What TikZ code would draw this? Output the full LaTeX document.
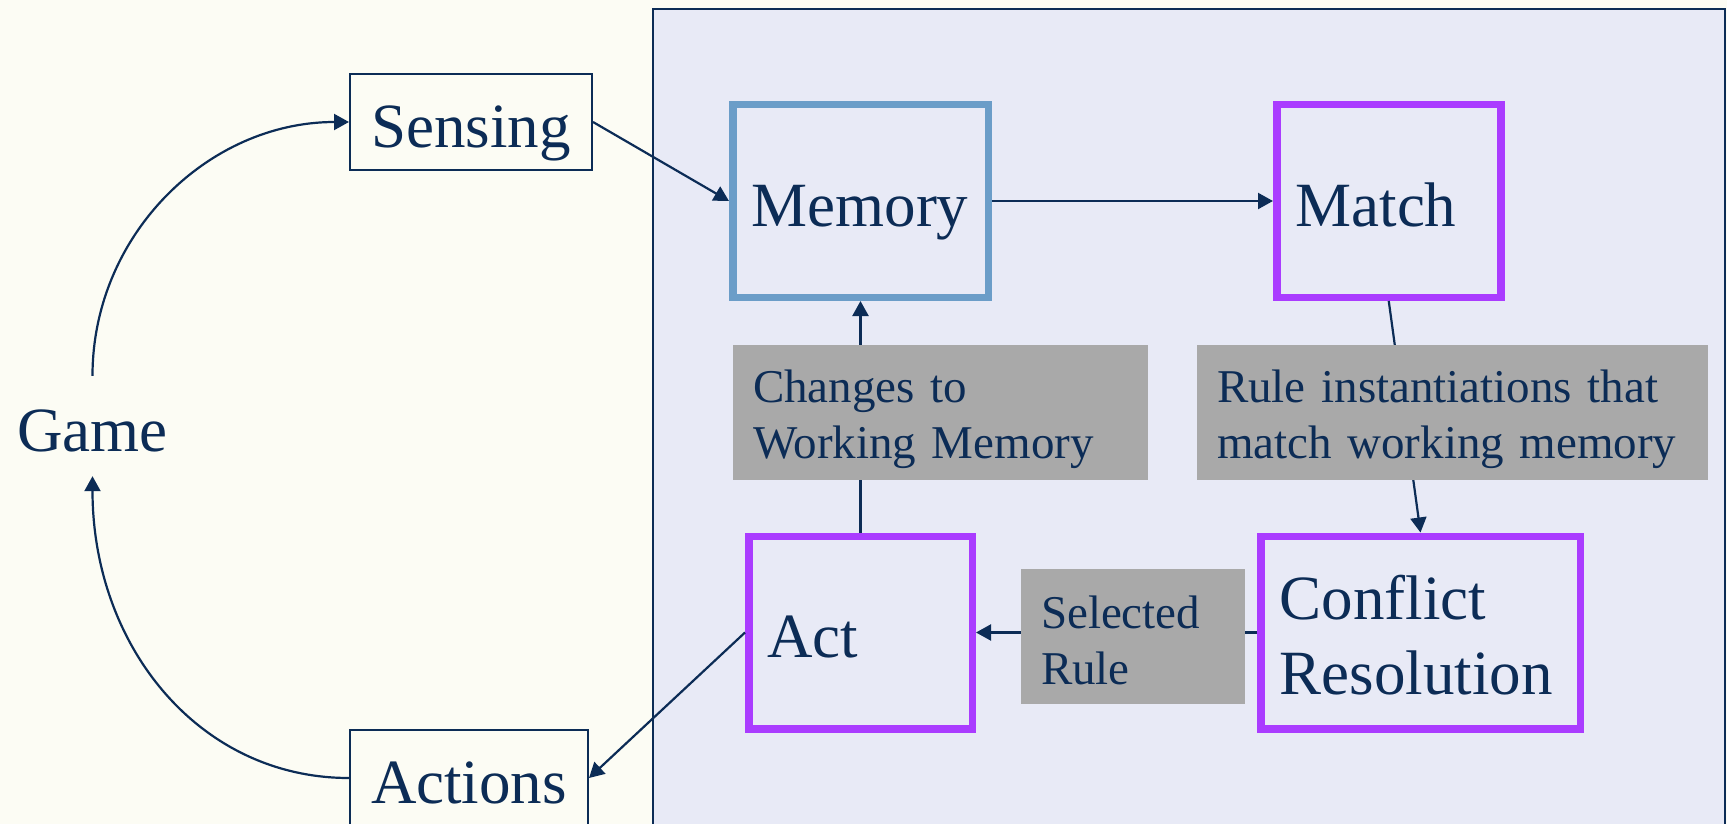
\documentclass[tikz,border=0pt]{standalone}
\usepackage{fontspec}
\setmainfont{Liberation Serif}
\usetikzlibrary{arrows.meta}
\definecolor{navy}{RGB}{12,44,86}
\definecolor{panelfill}{RGB}{232,234,246}
\definecolor{pagebg}{RGB}{252,252,244}
\definecolor{memblue}{RGB}{107,157,200}
\definecolor{rulepurple}{RGB}{170,60,255}
\definecolor{labelgray}{RGB}{169,169,169}
\begin{document}
\begin{tikzpicture}[x=1pt,y=-1pt,
  big/.style={font=\fontsize{63}{75}\selectfont, text=navy},
  small/.style={font=\fontsize{47}{56}\selectfont, text=navy},
  oneline/.style={text height=50pt, text depth=0pt},
  io/.style={big, oneline, draw=navy, line width=1.6pt, inner sep=0pt, minimum height=96.4pt},
  stage/.style={big, line width=7.5pt, align=left, inner xsep=18.75pt, inner ysep=0pt, minimum height=192.5pt},
  lbl/.style={small, fill=labelgray, align=left, inner xsep=20pt, inner ysep=0pt, minimum height=135pt, text height=46pt},
  conn/.style={draw=navy, line width=2.2pt},
  arr/.style={conn, -{Triangle[length=15pt,width=16pt]}}]
\useasboundingbox (0,0) rectangle (1727,824);
\fill[pagebg] (0,0) rectangle (1727,824);
\fill[panelfill] (653,9) rectangle (1725,860);
\draw[navy, line width=1.8pt] (653,9) rectangle (1725,860);

\node[io, minimum width=242.4pt] (sensing) at (471,122) {Sensing};
\node[io, minimum width=238.4pt] (actions) at (469,778) {Actions};
\node[big, oneline, inner xsep=0pt, inner ysep=25pt] (game) at (92.5,426) {Game};

\node[stage, oneline, draw=memblue, text width=218pt] (memory) at (860.5,201) {Memory};
\node[stage, oneline, draw=rulepurple, text width=186.5pt] (match) at (1388.75,201) {Match};
\node[stage, draw=rulepurple, text width=282pt, text height=50pt] (conflict) at (1420.5,632.5) {Conflict\\Resolution};
\node[stage, oneline, draw=rulepurple, text width=186pt] (act) at (860.5,632.5) {Act};

\draw[arr] (game.north) .. controls +(0,-141) and +(-141,0) .. (sensing.west);
\draw[arr] (actions.west) .. controls +(-150,0) and +(0,170) .. (game.south);
\draw[arr] (sensing.east) -- (memory.west);
\draw[arr] (memory.east) -- (match.west);
\draw[arr] (match.south) -- (conflict.north);
\draw[arr] (conflict.west) -- (act.east);
\draw[arr] (act.north) -- (memory.south);
\draw[arr] (act.west) -- (actions.east);

\node[lbl, text width=375pt] (changes) at (940.5,412.5) {Changes to\\Working Memory};
\node[lbl, text width=471pt] (inst) at (1452.5,412.5) {Rule instantiations that\\match working memory};
\node[lbl, text width=183.5pt, text height=40pt] (selected) at (1132.75,636.5) {Selected\\Rule};
\end{tikzpicture}
\end{document}
